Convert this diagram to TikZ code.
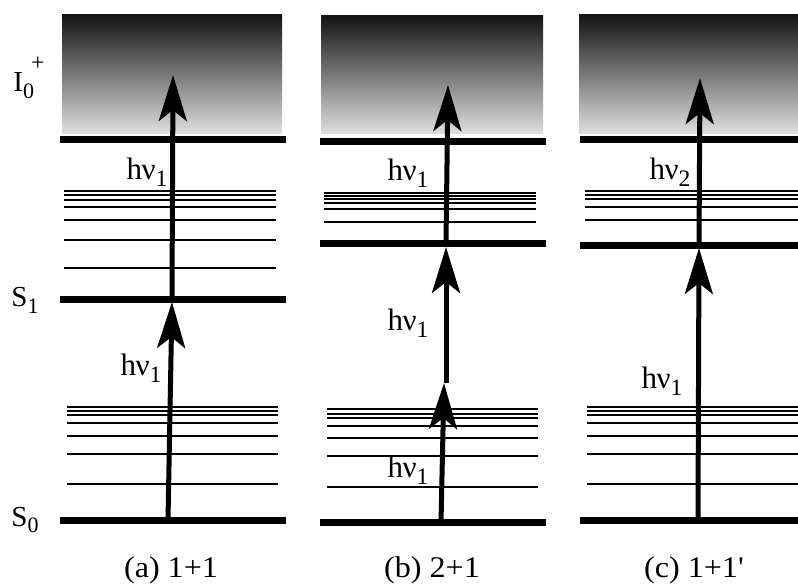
\documentclass[tikz,border=0pt]{standalone}
\usepackage{fontspec}
\usepackage{graphicx}
\setmainfont{Liberation Serif}
\usetikzlibrary{arrows.meta}

% lowered, slightly reduced subscript and raised superscript
\newcommand\dn[1]{\raisebox{-0.24em}{\scalebox{0.76}{#1}}}
\newcommand\up[1]{\raisebox{0.72em}{\scalebox{0.82}{#1}}}
% photon label h-nu with a subscript
\newcommand\hnu[1]{h\kern-0.02em ν\dn{#1}}

\begin{document}
\begin{tikzpicture}[x=1pt,y=-1pt,
  level/.style={line width=7pt},
  sublevel/.style={line width=1.8pt},
  photon/.style={line width=5pt,-{Stealth[length=46pt,width=28pt,inset=11pt]}},
  lbl/.style={font=\fontsize{31}{32}\selectfont, inner sep=0pt},
  statelbl/.style={font=\fontsize{29}{30}\selectfont, inner sep=0pt},
  caption/.style={font=\fontsize{30}{32}\selectfont, inner sep=0pt, xscale=1.07},
  continuum/.style={top color=black!93, bottom color=black!13, draw=none}]
\useasboundingbox (0,0) rectangle (798,584);

% ---------------- (a) 1+1 ----------------
\shade[continuum] (62,14) rectangle (282,133);
\draw[level] (60,139) -- (286,139);
\foreach \y in {190.7,194.7,199.7,206.7,219.7,239.7,267.7}
  \draw[sublevel] (64,\y) -- (276,\y);
\draw[level] (60,299) -- (286,299);
\foreach \y in {407.3,411,415,423.3,436,454,484}
  \draw[sublevel] (67,\y) -- (278,\y);
\draw[level] (60,520) -- (286,520);

\coordinate (a0) at (168,520);
\coordinate (a1) at (172,302);
\coordinate (a1s) at (172,299);
\coordinate (a2) at (173,75);
\draw[photon] (a0) -- (a1);
\draw[photon] (a1s) -- (a2);
\node[lbl] (aL1) at (141,368) {\hnu{1}};
\node[lbl] (aL2) at (147,172) {\hnu{1}};
\node[caption] (capa) at (171,570) {(a) 1+1};

% state labels
\node[statelbl] (ion) at (29,78) {I\dn{0}\kern-0.1em\up{+}};
\node[statelbl] (s1) at (25,300) {S\dn{1}};
\node[statelbl] (s0) at (25,520) {S\dn{0}};

% ---------------- (b) 2+1 ----------------
\shade[continuum] (321,15) rectangle (543,133);
\draw[level] (320,141.7) -- (546,141.7);
\foreach \y in {192.7,196,199.3,202.7,209.3,222.3}
  \draw[sublevel] (324,\y) -- (536,\y);
\draw[level] (320,243.3) -- (546,243.3);
\foreach \y in {409.3,413.7,418,425.7,438.3,456.3,486.7}
  \draw[sublevel] (327,\y) -- (538,\y);
\draw[level] (320,522.7) -- (546,522.7);

\coordinate (b0) at (441,522.7);
\coordinate (bv) at (444,383);
\coordinate (bvs) at (446,383);
\coordinate (b1) at (446,247);
\coordinate (b1s) at (446,243.3);
\coordinate (b2) at (448,85);
\draw[photon] (b0) -- (bv);
\draw[photon] (bvs) -- (b1);
\draw[photon] (b1s) -- (b2);
\node[lbl] (bL1) at (408,470) {\hnu{1}};
\node[lbl] (bL2) at (408,323) {\hnu{1}};
\node[lbl] (bL3) at (408,173) {\hnu{1}};
\node[caption] (capb) at (432,570) {(b) 2+1};

% ---------------- (c) 1+1' ----------------
\shade[continuum] (579,14) rectangle (798,133);
\draw[level] (580,139) -- (798,139);
\foreach \y in {190.7,194.7,199.3,206.7,219.7}
  \draw[sublevel] (585,\y) -- (798,\y);
\draw[level] (580,245) -- (798,245);
\foreach \y in {407.3,411,415,423.3,436,454,484}
  \draw[sublevel] (587,\y) -- (798,\y);
\draw[level] (580,520) -- (798,520);

\coordinate (c0) at (698,520);
\coordinate (c1) at (699,248);
\coordinate (c1s) at (699,245);
\coordinate (c2) at (700,78);
\draw[photon] (c0) -- (c1);
\draw[photon] (c1s) -- (c2);
\node[lbl] (cL1) at (662,381) {\hnu{1}};
\node[lbl] (cL2) at (670,172) {\hnu{2}};
\node[caption] (capc) at (694,570) {(c) 1+1\textquotesingle};
\end{tikzpicture}
\end{document}
